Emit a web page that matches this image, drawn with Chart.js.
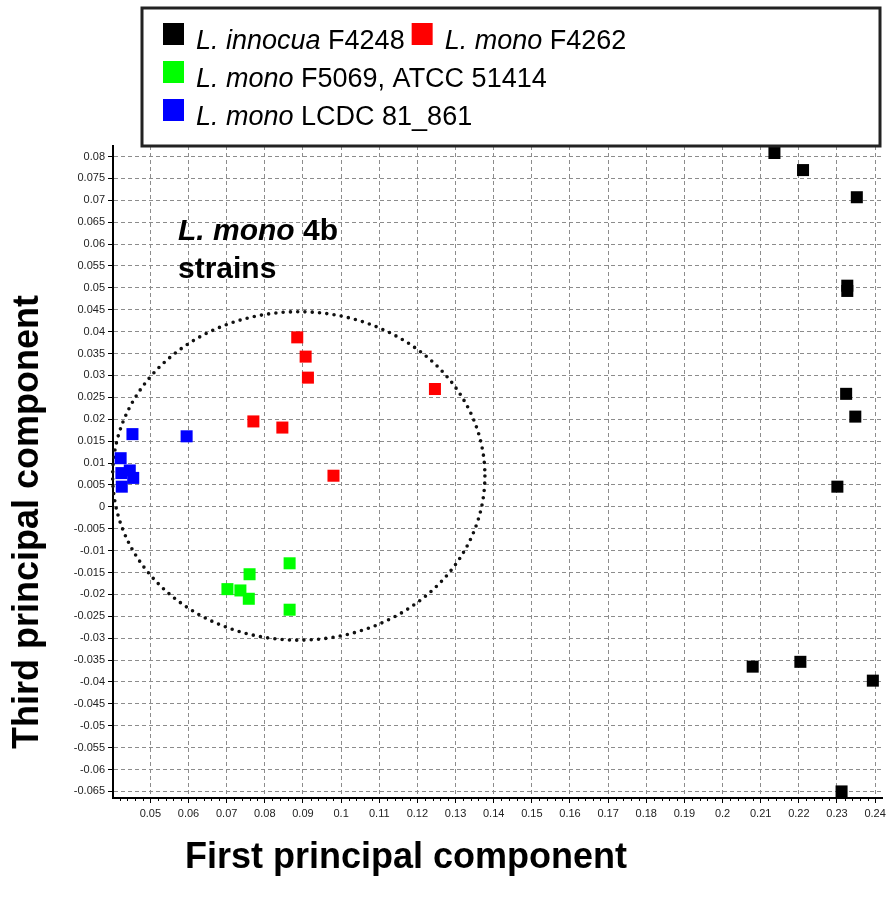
<!DOCTYPE html>
<html>
<head>
<meta charset="utf-8">
<script src="https://cdn.jsdelivr.net/npm/chart.js@4.4.1/dist/chart.umd.min.js"></script>
<style>
  html, body { margin: 0; padding: 0; background: #fff; }
  #wrap { position: relative; width: 894px; height: 916px; }
</style>
</head>
<body>
<div id="wrap"><canvas id="pcaChart"></canvas></div>
<script>
// scores: first principal component (x) vs third principal component (y)
const innocuaX = [0.2136, 0.2211, 0.2352, 0.2327, 0.2327, 0.2324, 0.2348, 0.2301, 0.2079, 0.2204, 0.2394, 0.2312];
const innocuaY = [0.0808, 0.0769, 0.0707, 0.0505, 0.0493, 0.0258, 0.0206, 0.0046, -0.0365, -0.0354, -0.0397, -0.0650];
const f4262X = [0.0885, 0.0907, 0.0913, 0.1246, 0.0770, 0.0846, 0.0980];
const f4262Y = [0.0387, 0.0343, 0.0295, 0.0269, 0.0195, 0.0181, 0.0071];
const f5069X = [0.0865, 0.0760, 0.0702, 0.0736, 0.0758, 0.0865];
const f5069Y = [-0.0129, -0.0154, -0.0188, -0.0191, -0.0210, -0.0235];
const lcdcX = [0.0453, 0.0595, 0.0422, 0.0446, 0.0455, 0.0425, 0.0424];
const lcdcY = [0.0166, 0.0161, 0.0111, 0.0083, 0.0066, 0.0046, 0.0077];

// axis ranges and tick steps
const xRange = [0.0402, 0.2418];
const yRange = [-0.0665, 0.0824];
const xStep = 0.01;
const yStep = 0.005;

// group outline (centre x, centre y, radius x, radius y) in data units
const groupEllipse = [0.0889, 0.00705, 0.0488, 0.0375];

// legend text: [italic part, regular part]
const legendNames = [
  ['L. innocua', ' F4248'],
  ['L. mono', ' F4262'],
  ['L. mono', ' F5069, ATCC 51414'],
  ['L. mono', ' LCDC 81_861']
];
const colors = ['#000000', '#ff0000', '#00ff00', '#0000ff'];

const FONT = "'Liberation Sans', Arial, sans-serif";

function toPoints(xs, ys) {
  return xs.map((x, i) => ({ x: x, y: ys[i] }));
}

const series = [
  toPoints(innocuaX, innocuaY),
  toPoints(f4262X, f4262Y),
  toPoints(f5069X, f5069Y),
  toPoints(lcdcX, lcdcY)
];

const datasets = series.map((pts, i) => ({
  label: legendNames[i].join(''),
  data: pts,
  pointStyle: 'rect',
  pointRadius: 8.5,
  pointHoverRadius: 8.5,
  backgroundColor: colors[i],
  borderColor: colors[i],
  borderWidth: 0
}));

function fmt(v) {
  return String(+v.toFixed(3));
}

const decor = {
  id: 'decor',
  beforeDatasetsDraw(chart) {
    const ctx = chart.ctx;
    const xs = chart.scales.x, ys = chart.scales.y;
    const cx = xs.getPixelForValue(groupEllipse[0]);
    const cy = ys.getPixelForValue(groupEllipse[1]);
    const rx = xs.getPixelForValue(groupEllipse[0] + groupEllipse[2]) - cx;
    const ry = cy - ys.getPixelForValue(groupEllipse[1] + groupEllipse[3]);
    ctx.save();
    ctx.beginPath();
    ctx.ellipse(cx, cy, rx, ry, 0, 0, Math.PI * 2);
    ctx.setLineDash([0, 7.3]);
    ctx.lineCap = 'round';
    ctx.lineWidth = 3.6;
    ctx.strokeStyle = '#111';
    ctx.stroke();
    ctx.restore();
  },
  afterDraw(chart) {
    const ctx = chart.ctx;
    const xs = chart.scales.x;
    const area = chart.chartArea;
    ctx.save();

    // minor ticks on the x axis
    ctx.strokeStyle = '#000';
    ctx.lineWidth = 1;
    for (let v = 0.042; v < xRange[1]; v += 0.002) {
      const r = Math.round(v * 1000) / 1000;
      if (Math.abs(r * 100 - Math.round(r * 100)) < 1e-6) continue;
      const px = Math.round(xs.getPixelForValue(r)) + 0.5;
      ctx.beginPath();
      ctx.moveTo(px, area.bottom);
      ctx.lineTo(px, area.bottom + 3);
      ctx.stroke();
    }

    // legend box
    ctx.fillStyle = '#fff';
    ctx.fillRect(142, 8, 738, 138);
    ctx.lineWidth = 3;
    ctx.strokeStyle = '#222';
    ctx.strokeRect(142, 8, 738, 138);

    function drawEntry(i, x, baseline) {
      ctx.fillStyle = colors[i];
      ctx.fillRect(x, baseline - 26, 21, 22);
      let tx = x + 33;
      ctx.fillStyle = '#000';
      ctx.textBaseline = 'alphabetic';
      ctx.textAlign = 'left';
      ctx.font = 'italic 27px ' + FONT;
      ctx.fillText(legendNames[i][0], tx, baseline);
      tx += ctx.measureText(legendNames[i][0]).width;
      ctx.font = '27px ' + FONT;
      ctx.fillText(legendNames[i][1], tx, baseline);
      return tx + ctx.measureText(legendNames[i][1]).width;
    }
    const end0 = drawEntry(0, 163, 49);
    drawEntry(1, end0 + 7, 49);
    drawEntry(2, 163, 87);
    drawEntry(3, 163, 125);

    // group annotation
    ctx.fillStyle = '#000';
    ctx.textAlign = 'left';
    ctx.font = 'italic bold 30px ' + FONT;
    ctx.fillText('L. mono', 178, 240);
    const w = ctx.measureText('L. mono').width;
    ctx.font = 'bold 30px ' + FONT;
    ctx.fillText(' 4b', 178 + w, 240);
    ctx.fillText('strains', 178, 278);

    // axis titles
    ctx.font = 'bold 36px ' + FONT;
    ctx.textAlign = 'center';
    ctx.textBaseline = 'middle';
    ctx.fillText('First principal component', 406, 858);
    ctx.translate(28, 522);
    ctx.rotate(-Math.PI / 2);
    ctx.fillText('Third principal component', 0, 0);
    ctx.restore();
  }
};

const gridOpts = {
  color: '#8c8c8c',
  lineWidth: 1,
  tickColor: '#000',
  tickLength: 5,
  tickBorderDash: []
};

// axis line solid; dash applies to the grid lines
const borderOpts = { display: true, color: '#000', width: 2, dash: [4, 3] };

new Chart(document.getElementById('pcaChart'), {
  type: 'scatter',
  data: { datasets: datasets },
  options: {
    responsive: true,
    maintainAspectRatio: false,
    animation: false,
    layout: { padding: { top: 146, right: 12, bottom: 0, left: 0 } },
    plugins: {
      legend: { display: false },
      tooltip: { enabled: false }
    },
    scales: {
      x: {
        type: 'linear',
        min: xRange[0],
        max: xRange[1],
        afterFit(scale) { scale.height = 118; },
        border: Object.assign({}, borderOpts),
        grid: Object.assign({}, gridOpts),
        ticks: {
          stepSize: xStep,
          includeBounds: false,
          autoSkip: false,
          maxRotation: 0,
          padding: 4,
          color: '#222',
          font: { family: FONT, size: 11 },
          callback: v => fmt(v)
        }
      },
      y: {
        type: 'linear',
        min: yRange[0],
        max: yRange[1],
        afterFit(scale) { scale.width = 113; },
        border: Object.assign({}, borderOpts),
        grid: Object.assign({}, gridOpts),
        ticks: {
          stepSize: yStep,
          includeBounds: false,
          autoSkip: false,
          padding: 3,
          color: '#222',
          font: { family: FONT, size: 11 },
          callback: v => fmt(v)
        }
      }
    }
  },
  plugins: [decor]
});
</script>
</body>
</html>
